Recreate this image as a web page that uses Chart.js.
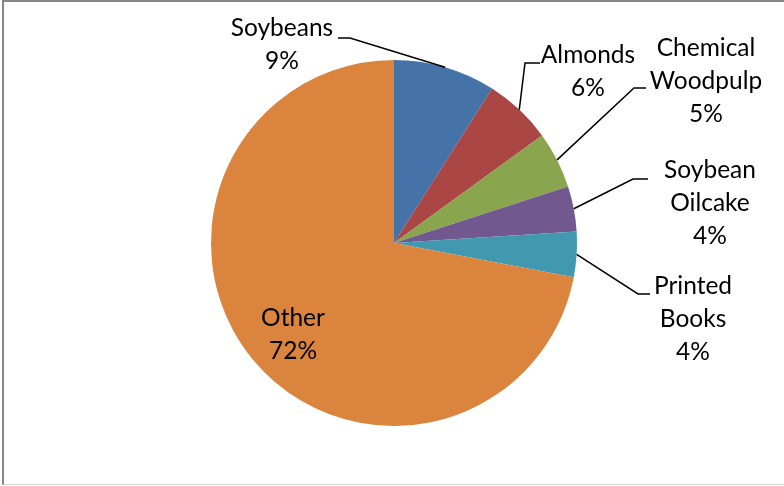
<!DOCTYPE html>
<html>
<head>
<meta charset="utf-8">
<script src="https://cdn.jsdelivr.net/npm/chart.js@4"></script>
<style>
  html, body { margin: 0; padding: 0; background: #fff; }
  #wrap {
    position: absolute; left: 0; top: 0; width: 784px; height: 486px;
  }
  #frame {
    position: absolute; left: 2px; top: 0; width: 790px; height: 482px;
    border-top: 2px solid #878787; border-left: 2px solid #878787;
    border-bottom: 1px solid #d4d4d4; pointer-events: none;
  }
</style>
</head>
<body>
<div id="wrap">
  <canvas id="myChart" width="784" height="486"></canvas>
  <div id="frame"></div>
</div>
<script>
const labels = ["Soybeans", "Almonds", "Chemical Woodpulp", "Soybean Oilcake", "Printed Books", "Other"];
const shares = [9, 6, 5, 4, 4, 72];
const colors = ["#4572a7", "#aa4643", "#89a54e", "#71588f", "#4198af", "#db843d"];

// where each label text sits and how its leader line bends
const labelLayout = [
  { lines: ["Soybeans"], x: 282, y: 28, elbow: [[350, 38], [338, 38]] },
  { lines: ["Almonds"], x: 588, y: 55, elbow: [[525, 63], [540, 63]] },
  { lines: ["Chemical", "Woodpulp"], x: 706, y: 48, elbow: [[634, 88], [646, 88]] },
  { lines: ["Soybean", "Oilcake"], x: 710, y: 170, elbow: [[633, 179], [648, 179]] },
  { lines: ["Printed", "Books"], x: 693, y: 286, elbow: [[638, 294], [650, 294]] },
  { lines: ["Other"], x: 293, y: 318, elbow: null }
];

const pieLabels = {
  id: "pieLabels",
  afterDatasetsDraw(chart) {
    const c = chart.ctx;
    const meta = chart.getDatasetMeta(0);
    c.save();
    c.font = "24.5px Lato";
    c.fillStyle = "#000";
    c.textAlign = "center";
    c.textBaseline = "middle";
    c.strokeStyle = "#000";
    c.lineWidth = 1.5;
    meta.data.forEach((arc, i) => {
      const lay = labelLayout[i];
      if (lay.elbow) {
        const mid = (arc.startAngle + arc.endAngle) / 2;
        const ex = arc.x + Math.cos(mid) * arc.outerRadius;
        const ey = arc.y + Math.sin(mid) * arc.outerRadius;
        c.beginPath();
        c.moveTo(ex, ey);
        lay.elbow.forEach(p => c.lineTo(p[0], p[1]));
        c.stroke();
      }
      const lineH = 33;
      lay.lines.forEach((t, k) => c.fillText(t, lay.x, lay.y + k * lineH));
      c.fillText(shares[i] + "%", lay.x, lay.y + lay.lines.length * lineH);
    });
    c.restore();
  }
};

const ctx = document.getElementById("myChart");

new Chart(ctx, {
  type: "pie",
  data: {
    labels: labels,
    datasets: [
      {
        data: shares,
        backgroundColor: colors,
        borderColor: "#ffffff",
        borderWidth: 0
      }
    ]
  },
  options: {
    responsive: false,
    animation: false,
    layout: { padding: { top: 60, bottom: 60, left: 100, right: 96 } },
    plugins: {
      legend: { display: false },
      tooltip: { enabled: false }
    }
  },
  plugins: [pieLabels]
});
</script>
</body>
</html>
